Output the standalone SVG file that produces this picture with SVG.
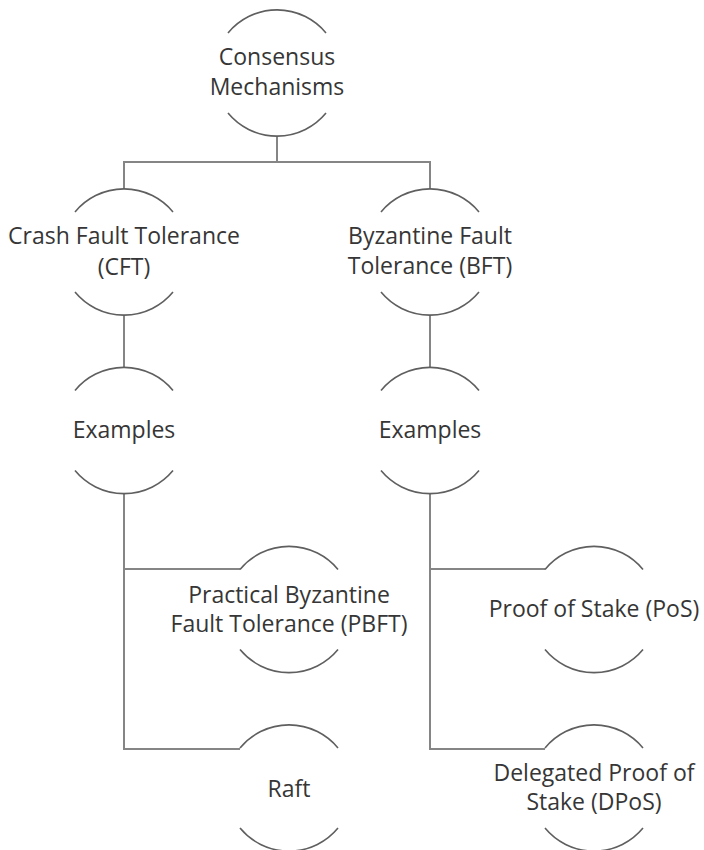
<svg xmlns="http://www.w3.org/2000/svg" width="704" height="850" viewBox="0 0 704 850">
<style>
.arc{fill:none;stroke:#5f5f5f;stroke-width:1.6}
.con{fill:none;stroke:#858585;stroke-width:2}
.t{font-family:"Open Sans","Noto Sans",sans-serif;font-size:23px;fill:#363636;text-anchor:middle}
</style>
<rect width="704" height="850" fill="#ffffff"/>
<g id="connectors">
<path class="con" d="M277 136 V162"/>
<path class="con" d="M124 188 V162 H430 V188"/>
<path class="con" d="M124 316 V367"/>
<path class="con" d="M430 316 V367"/>
<path class="con" d="M124 494 V749 H240"/>
<path class="con" d="M124 569 H240"/>
<path class="con" d="M430 494 V749 H545"/>
<path class="con" d="M430 569 H545"/>
</g>
<g id="root">
<path class="arc" d="M228 33 A63.5 63.5 0 0 1 326 33"/>
<path class="arc" d="M228 113 A63.5 63.5 0 0 0 326 113"/>
<text class="t" x="277" y="65">Consensus</text>
<text class="t" x="277" y="95">Mechanisms</text>
</g>
<g id="cft">
<path class="arc" d="M75 212 A63.5 63.5 0 0 1 173 212"/>
<path class="arc" d="M75 292 A63.5 63.5 0 0 0 173 292"/>
<text class="t" x="124" y="244">Crash Fault Tolerance</text>
<text class="t" x="124" y="275">(CFT)</text>
</g>
<g id="bft">
<path class="arc" d="M381 212 A63.5 63.5 0 0 1 479 212"/>
<path class="arc" d="M381 292 A63.5 63.5 0 0 0 479 292"/>
<text class="t" x="430" y="244">Byzantine Fault</text>
<text class="t" x="430" y="274">Tolerance (BFT)</text>
</g>
<g id="examples-cft">
<path class="arc" d="M75 390.5 A63.5 63.5 0 0 1 173 390.5"/>
<path class="arc" d="M75 470.5 A63.5 63.5 0 0 0 173 470.5"/>
<text class="t" x="124" y="438">Examples</text>
</g>
<g id="examples-bft">
<path class="arc" d="M381 390.5 A63.5 63.5 0 0 1 479 390.5"/>
<path class="arc" d="M381 470.5 A63.5 63.5 0 0 0 479 470.5"/>
<text class="t" x="430" y="438">Examples</text>
</g>
<g id="pbft">
<path class="arc" d="M240 569.5 A63.5 63.5 0 0 1 338 569.5"/>
<path class="arc" d="M240 649.5 A63.5 63.5 0 0 0 338 649.5"/>
<text class="t" x="289" y="603">Practical Byzantine</text>
<text class="t" x="289" y="632">Fault Tolerance (PBFT)</text>
</g>
<g id="raft">
<path class="arc" d="M240 748 A63.5 63.5 0 0 1 338 748"/>
<path class="arc" d="M240 828 A63.5 63.5 0 0 0 338 828"/>
<text class="t" x="289" y="797">Raft</text>
</g>
<g id="pos">
<path class="arc" d="M545 569.5 A63.5 63.5 0 0 1 643 569.5"/>
<path class="arc" d="M545 649.5 A63.5 63.5 0 0 0 643 649.5"/>
<text class="t" x="594" y="617">Proof of Stake (PoS)</text>
</g>
<g id="dpos">
<path class="arc" d="M545 748 A63.5 63.5 0 0 1 643 748"/>
<path class="arc" d="M545 828 A63.5 63.5 0 0 0 643 828"/>
<text class="t" x="594" y="781">Delegated Proof of</text>
<text class="t" x="594" y="810">Stake (DPoS)</text>
</g>
</svg>
